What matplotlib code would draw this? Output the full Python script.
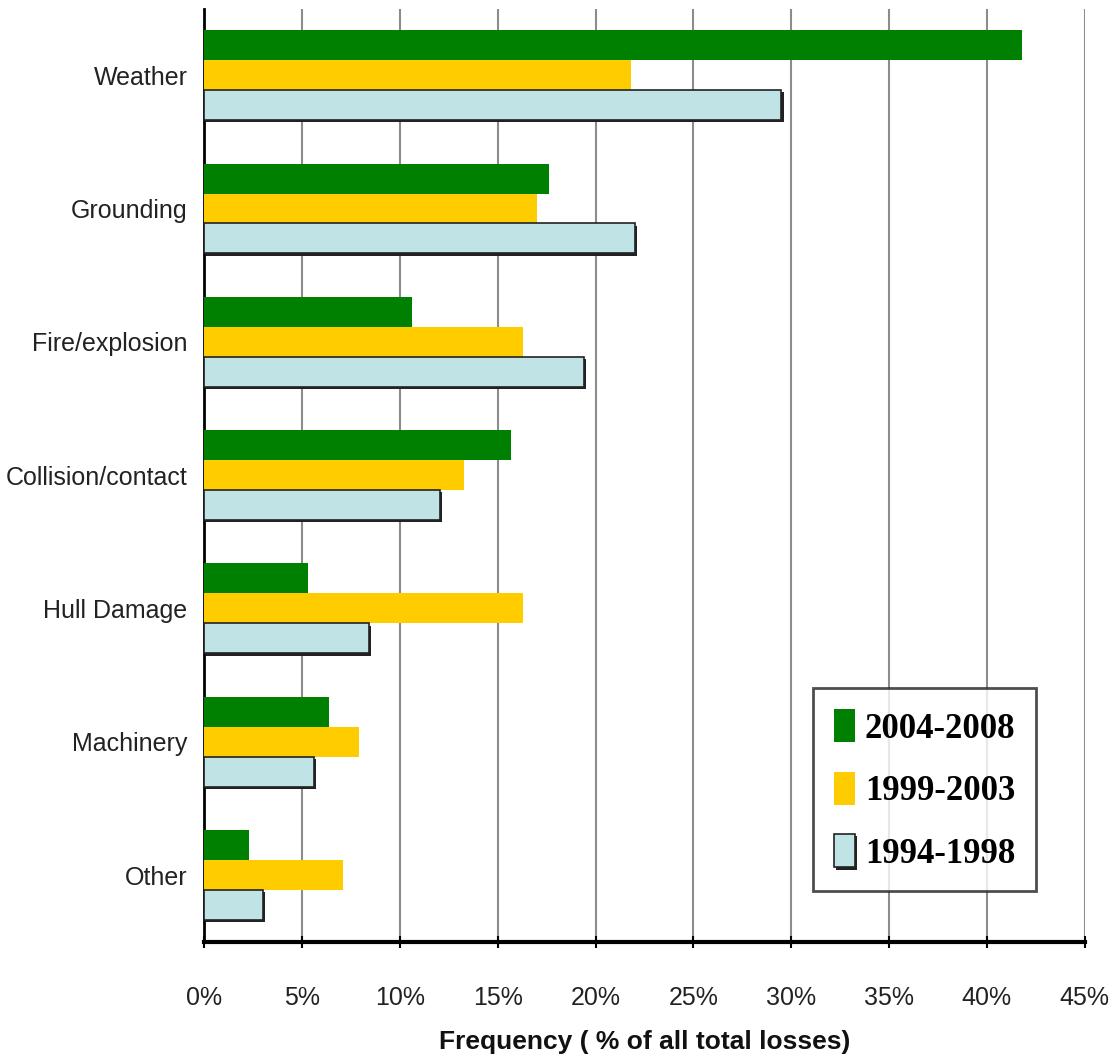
import numpy as np
import matplotlib
matplotlib.use('Agg')
import matplotlib.pyplot as plt
import matplotlib.patheffects as pe

# Causes of total losses and their share per period (%)
causes = ['Weather', 'Grounding', 'Fire/explosion', 'Collision/contact',
          'Hull Damage', 'Machinery', 'Other']
p2004_2008 = [41.8, 17.6, 10.6, 15.7, 5.3, 6.4, 2.3]
p1999_2003 = [21.8, 17.0, 16.3, 13.3, 16.3, 7.9, 7.1]
p1994_1998 = [29.5, 22.0, 19.4, 12.05, 8.4, 5.6, 3.0]
xticks = [0, 5, 10, 15, 20, 25, 30, 35, 40, 45]

sans = ['Liberation Sans', 'DejaVu Sans']

fig = plt.figure(figsize=(11.16, 10.63), dpi=100)
ax = fig.add_axes([0.183, 0.114, 0.789, 0.878])

y = np.arange(len(causes))
h = 0.225

ax.barh(y - h, p2004_2008, height=h, color='#008000', label='2004-2008', zorder=3)
ax.barh(y, p1999_2003, height=h, color='#ffcc00', label='1999-2003', zorder=3)
blue = ax.barh(y + h, p1994_1998, height=h, color='#c0e4e6', edgecolor='#222222',
               linewidth=1.2, label='1994-1998', zorder=3)
for b in blue:
    b.set_path_effects([pe.SimplePatchShadow(offset=(1.5, -1.5), shadow_rgbFace='#222222', alpha=1),
                        pe.Normal()])

ax.set_ylim(len(causes) - 0.5, -0.5)
ax.set_xlim(0, 45)
ax.set_yticks(y)
ax.set_yticklabels(causes, family=sans, fontsize=18, color='#222222')
ax.set_xticks(xticks)
ax.set_xticklabels([f'{t}%' for t in xticks], family=sans, fontsize=18, color='#222222')
ax.tick_params(axis='y', length=0, pad=12)
ax.tick_params(axis='x', length=8, width=1.5, direction='inout', pad=28)

ax.xaxis.grid(True, color='#8c8c8c', linewidth=1.5, zorder=0)
ax.spines['top'].set_visible(False)
ax.spines['right'].set_visible(False)
ax.spines['left'].set_linewidth(2)
ax.spines['bottom'].set_linewidth(3)

ax.set_xlabel('Frequency ( % of all total losses)', family=sans, fontsize=19,
              fontweight='bold', color='#111111', labelpad=14)

leg = ax.legend(loc='lower right', bbox_to_anchor=(0.945, 0.054), borderaxespad=0,
                prop={'family': ['Liberation Serif', 'DejaVu Serif'], 'weight': 'bold', 'size': 25},
                frameon=True, fancybox=False, edgecolor='#222222', handlelength=0.6,
                handleheight=1.1, handletextpad=0.3, labelspacing=0.75, borderpad=0.6)
leg.get_frame().set_linewidth(2)
leg.set_zorder(5)

fig.savefig('out.png', dpi=100, facecolor='white')
